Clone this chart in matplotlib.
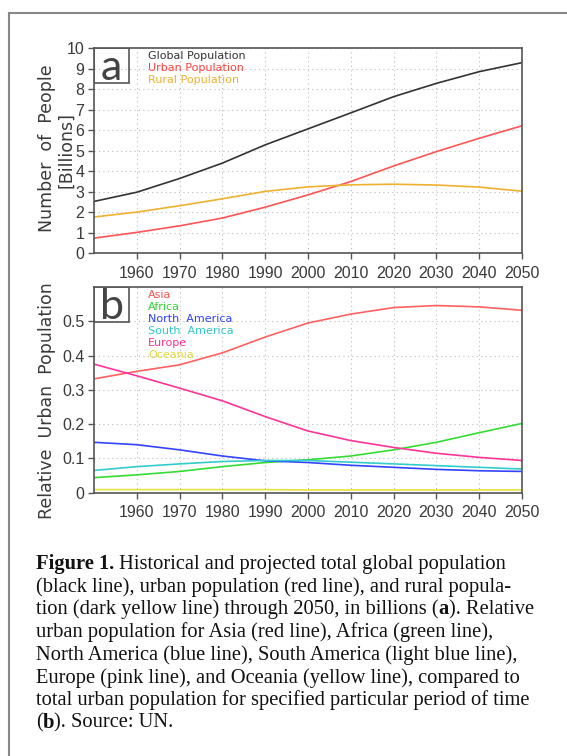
import numpy as np
import matplotlib
matplotlib.use('Agg')
import matplotlib.pyplot as plt
from matplotlib.patches import Rectangle
from matplotlib.lines import Line2D

years = [1950, 1960, 1970, 1980, 1990, 2000, 2010, 2020, 2030, 2040, 2050]

# panel a, billions
global_pop = [2.53, 2.98, 3.65, 4.40, 5.29, 6.07, 6.85, 7.64, 8.29, 8.86, 9.30]
urban_pop = [0.74, 1.02, 1.34, 1.72, 2.25, 2.85, 3.50, 4.26, 4.96, 5.61, 6.22]
rural_pop = [1.77, 2.01, 2.32, 2.66, 3.02, 3.24, 3.34, 3.37, 3.33, 3.23, 3.03]

# panel b, share of world urban population
asia = [0.332, 0.354, 0.373, 0.408, 0.454, 0.495, 0.521, 0.540, 0.546, 0.542, 0.532]
africa = [0.044, 0.052, 0.062, 0.076, 0.088, 0.096, 0.107, 0.125, 0.147, 0.175, 0.202]
north_america = [0.147, 0.140, 0.125, 0.107, 0.093, 0.088, 0.080, 0.074, 0.068, 0.064, 0.062]
south_america = [0.065, 0.076, 0.084, 0.091, 0.094, 0.094, 0.089, 0.084, 0.079, 0.074, 0.069]
europe = [0.375, 0.341, 0.305, 0.268, 0.222, 0.180, 0.152, 0.132, 0.115, 0.103, 0.094]
oceania = [0.009, 0.009, 0.009, 0.009, 0.009, 0.008, 0.008, 0.008, 0.008, 0.008, 0.008]

W, H = 567, 756
fig = plt.figure(figsize=(W / 100, H / 100), dpi=100)
fig.patch.set_facecolor('white')

tick_font = ['Liberation Sans Narrow', 'Liberation Sans', 'DejaVu Sans']
txt_col = '#3a3a3a'


def fx(px):
    return px / W


def fy(py):
    return 1 - py / H


def setup_axes(ax, ylim, yticks, yticklabels, letter):
    ax.set_xlim(1950, 2050)
    ax.set_ylim(*ylim)
    ax.set_xticks(range(1960, 2051, 10))
    ax.set_yticks(yticks)
    ax.set_yticklabels(yticklabels)
    ax.grid(True, color='#bbbbbb', linestyle=(0, (1, 3)), linewidth=0.8)
    for s in ax.spines.values():
        s.set_color('#555555')
        s.set_linewidth(1.2)
    ax.tick_params(direction='out', length=4, width=1, color='#555555',
                   labelsize=11.5, labelcolor=txt_col, pad=3)
    ax.tick_params(axis='x', pad=5)
    for lab in ax.get_xticklabels() + ax.get_yticklabels():
        lab.set_family(tick_font)
    ax.add_patch(Rectangle((0, 1 - 0.17), 0.082, 0.17, transform=ax.transAxes,
                           fill=False, edgecolor='#555555', lw=1.2, zorder=5))
    ax.text(0.041, 1 - 0.095, letter, transform=ax.transAxes, ha='center',
            va='center', fontsize=31, color='#444444', family=['Lato', 'DejaVu Sans'],
            zorder=6)


# panel a
ax1 = fig.add_axes([fx(94), fy(253.3), fx(522 - 94), (253.3 - 48.3) / H])
setup_axes(ax1, (0, 10), range(0, 11), [str(i) for i in range(11)], 'a')
ax1.plot(years, global_pop, color='#333333', lw=1.2)
ax1.plot(years, urban_pop, color='#ff5555', lw=1.2)
ax1.plot(years, rural_pop, color='#f0b030', lw=1.2)
leg_a = [('Global Population', '#333333'), ('Urban Population', '#ff4040'),
         ('Rural Population', '#f0b030')]
for i, (name, c) in enumerate(leg_a):
    ax1.text(0.126, 0.962 - i * 0.059, name, transform=ax1.transAxes,
             va='center', fontsize=8, color=c)

# panel b
ax2 = fig.add_axes([fx(94), fy(492.7), fx(522 - 94), (492.7 - 287) / H])
setup_axes(ax2, (0, 0.6), [0, 0.1, 0.2, 0.3, 0.4, 0.5],
           ['0', '0.1', '0.2', '0.3', '0.4', '0.5'], 'b')
ax2.plot(years, asia, color='#ff6060', lw=1.2)
ax2.plot(years, africa, color='#33dd33', lw=1.2)
ax2.plot(years, north_america, color='#3344ff', lw=1.2)
ax2.plot(years, south_america, color='#33cccc', lw=1.2)
ax2.plot(years, europe, color='#ff3399', lw=1.2)
ax2.plot(years, oceania, color='#e8e040', lw=1.2)
leg_b = [('Asia', '#ff5050'), ('Africa', '#30d030'), ('North  America', '#3040ff'),
         ('South  America', '#30c8c8'), ('Europe', '#ff3090'), ('Oceania', '#e0d840')]
for i, (name, c) in enumerate(leg_b):
    ax2.text(0.126, 0.961 - i * 0.0585, name, transform=ax2.transAxes,
             va='center', fontsize=8, color=c)

# y labels
fig.text(fx(47), fy(148), 'Number  of  People', rotation=90, ha='center',
         va='center', fontsize=12.5, color=txt_col)
fig.text(fx(66), fy(150), '[Billions]', rotation=90, ha='center',
         va='center', fontsize=12.5, color=txt_col)
fig.text(fx(47), fy(401), 'Relative  Urban  Population', rotation=90,
         ha='center', va='center', fontsize=12.5, color=txt_col)

# page frame
fig.add_artist(Line2D([fx(9), 1], [fy(13), fy(13)], color='#888888', lw=1.5))
fig.add_artist(Line2D([fx(9), fx(9)], [fy(13), 0], color='#888888', lw=1.5))

# caption
caption = [
    [('Figure 1.', True), (' Historical and projected total global population', False)],
    [('(black line), urban population (red line), and rural popula-', False)],
    [('tion (dark yellow line) through 2050, in billions (', False), ('a', True),
     ('). Relative', False)],
    [('urban population for Asia (red line), Africa (green line),', False)],
    [('North America (blue line), South America (light blue line),', False)],
    [('Europe (pink line), and Oceania (yellow line), compared to', False)],
    [('total urban population for specified particular period of time', False)],
    [('(', False), ('b', True), ('). Source: UN.', False)],
]
renderer = fig.canvas.get_renderer()
for i, line in enumerate(caption):
    x = fx(36)
    y = fy(569 + i * 22.7)
    for txt, bold in line:
        t = fig.text(x, y, txt, fontsize=14.8, family='Liberation Serif',
                     fontweight='bold' if bold else 'normal', va='baseline',
                     color='#111111')
        x += t.get_window_extent(renderer).width / fig.bbox.width

fig.savefig('out.png', dpi=100)
